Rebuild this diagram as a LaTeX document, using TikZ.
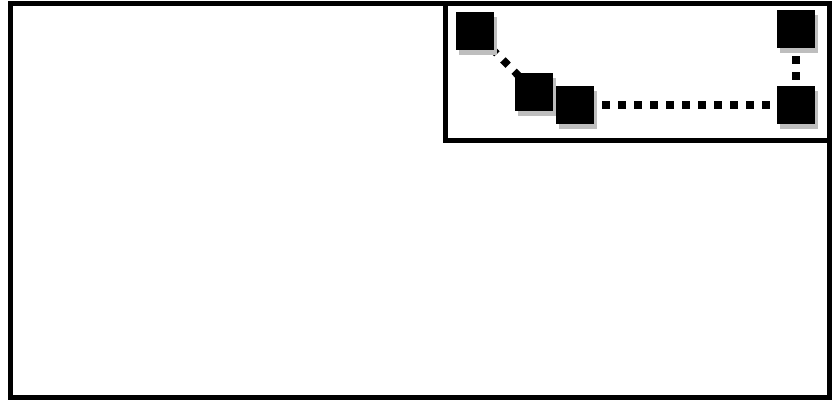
\documentclass[tikz,border=0pt]{standalone}
\usepackage{tikz}
\usetikzlibrary{shadows, backgrounds}
\definecolor{colShadow}{HTML}{BEBEBE}

\tikzset{
  blockbox/.style={rectangle, fill=black, minimum size=38pt, inner sep=0pt,
    drop shadow={fill=colShadow, opacity=1, shadow xshift=3pt, shadow yshift=-5pt}},
  dotlink/.style={line width=7.5pt, dash pattern=on 7.5pt off 8.5pt, dash phase=7.5pt},
  framebox/.style={line width=4.5pt}
}

\begin{document}
\begin{tikzpicture}[x=1pt, y=-1pt]
				\useasboundingbox (0,0) rectangle (839,400);
				% frames
				\draw[framebox] (10.5,3.5) rectangle (829.5,397.5);
				\draw[framebox] (445.5,3.5) rectangle (829.5,140.5);
				% blocks
				\node[blockbox] (blkA) at (474.5,31) {};
				\node[blockbox] (blkB) at (534,91.5) {};
				\node[blockbox] (blkC) at (574.5,105) {};
				\node[blockbox] (blkD) at (796,28.5) {};
				\node[blockbox] (blkE) at (796,105) {};
				% links
				\begin{scope}[on background layer]
				\draw[dotlink] (blkA.center) -- (blkB.center);
				\end{scope}
				\draw[dotlink] (blkC) -- (blkE);
				\draw[dotlink] (blkD) -- (blkE);
\end{tikzpicture}
\end{document}
